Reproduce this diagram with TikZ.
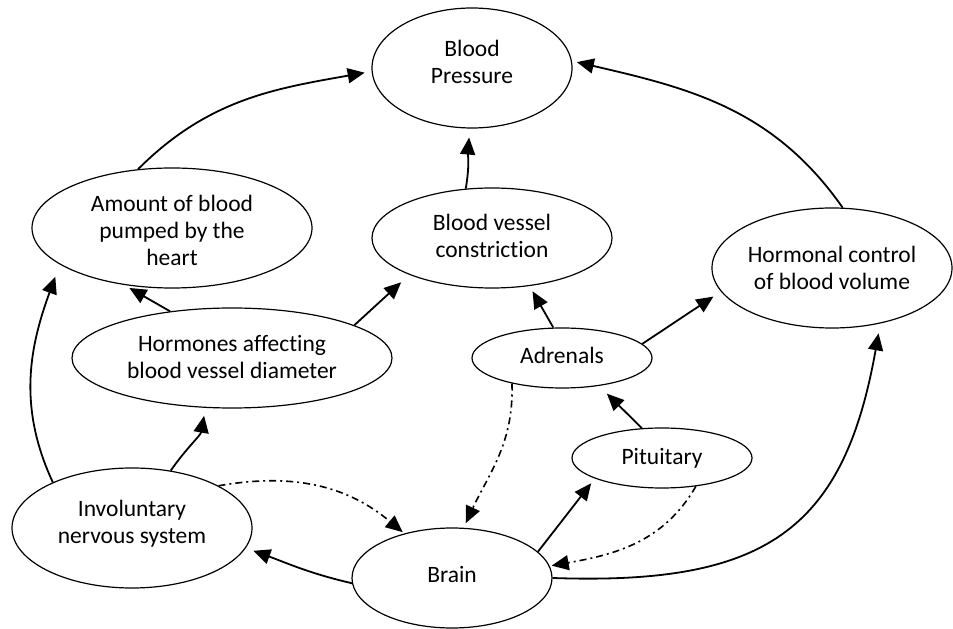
\documentclass[tikz,border=0pt]{standalone}
\usepackage{fontspec}
\newfontfamily\carl{Carlito}[Ligatures=NoCommon]
\usetikzlibrary{arrows.meta,shapes.geometric}
\newcommand\lines[2][0pt]{\raisebox{#1}[\height][\depth]{\begin{tabular}{@{}c@{}}#2\end{tabular}}}
\begin{document}
\begin{tikzpicture}[x=1pt,y=1pt,
  ell/.style={draw, ellipse, line width=1.2pt, inner sep=0pt, font=\carl\fontsize{23.5pt}{27pt}\selectfont},
  arr/.style={line width=1.8pt, -{Triangle[length=17pt,width=15pt]}},
  dd/.style={line width=1.6pt, dash pattern=on 7pt off 4pt on 2pt off 4pt, -{Triangle[length=17pt,width=15pt]}}]
\useasboundingbox (0,0) rectangle (953,629);
\node[ell, minimum width=200pt, minimum height=120pt] (bp) at (472,561) {\lines[3pt]{Blood\\Pressure}};
\node[ell, minimum width=280pt, minimum height=120pt] (amount) at (172,401) {\lines[-5pt]{Amount of blood\\pumped by the\\heart}};
\node[ell, minimum width=240pt, minimum height=100pt] (constr) at (492,391) {\lines[-1pt]{Blood vessel\\constriction}};
\node[ell, minimum width=240pt, minimum height=120pt] (hormonal) at (832,361) {\lines[-3pt]{Hormonal control\\of blood volume}};
\node[ell, minimum width=320pt, minimum height=100pt] (hormones) at (232,271) {\lines[-2pt]{Hormones affecting\\blood vessel diameter}};
\node[ell, minimum width=180pt, minimum height=60pt] (adrenals) at (562,271) {\lines{Adrenals}};
\node[ell, minimum width=180pt, minimum height=60pt] (pituitary) at (662,171) {\lines[-1pt]{Pituitary}};
\node[ell, minimum width=240pt, minimum height=120pt] (invol) at (132,101) {\lines[3pt]{Involuntary\\nervous system}};
\node[ell, minimum width=200pt, minimum height=100pt] (brain) at (452,51) {\lines[1pt]{Brain}};

\draw[arr, shorten >=7pt] (amount.120) to[out=45,in=190] (bp.182);
\draw[arr, shorten >=9pt] (constr.118) to[out=80,in=265] (bp.268);
\draw[arr, shorten >=5pt] (hormonal.80.5) to[out=125,in=-13] (bp.4);
\draw[arr, shorten >=6pt] (hormones.143) -- (amount.230);
\draw[arr, shorten >=11pt] (hormones.15) -- (constr.204);
\draw[arr, shorten >=6pt] (adrenals.106) -- (constr.308);
\draw[arr, shorten >=9pt] (adrenals.10.5) -- (hormonal.192);
\draw[arr, shorten >=11pt] (pituitary.124) -- (adrenals.323);
\draw[dd, shorten >=5pt] (adrenals.207) to[out=-88,in=65] (brain.77);
\draw[dd, shorten >=2pt] (pituitary.320) to[out=-120,in=10] (brain.7.6);
\draw[arr, shorten >=6pt] (brain.17.4) -- (pituitary.197);
\draw[arr, shorten >=10pt] (brain.0) to[out=-2,in=-100,looseness=1.3] (hormonal.311);
\draw[arr, shorten >=8pt] (brain.183) to[out=167,in=-20] (invol.350);
\draw[arr, shorten >=8pt] (invol.56) to[out=55,in=-100] (hormones.242);
\draw[arr, shorten >=13pt] (invol.150) to[out=115,in=-110] (amount.198);
\draw[dd, shorten >=2pt] (invol.26.6) to[out=10,in=140] (brain.137);
\end{tikzpicture}
\end{document}
